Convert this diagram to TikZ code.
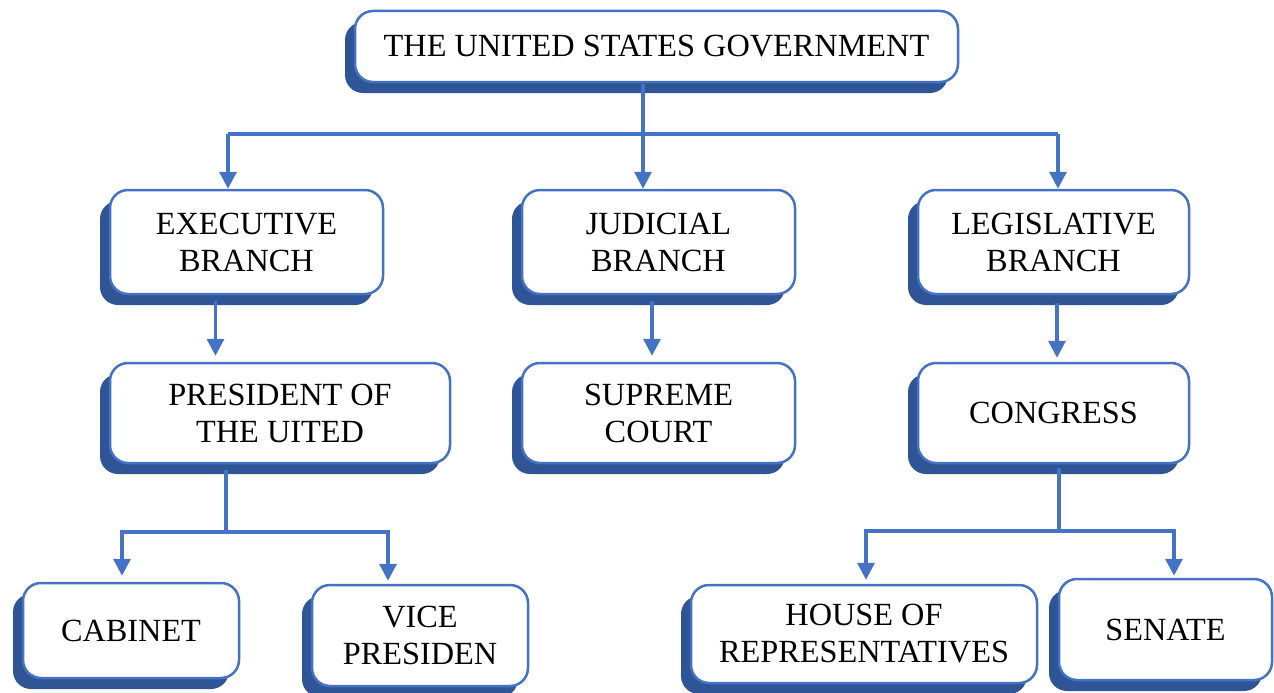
\documentclass[tikz,border=0pt]{standalone}
\usepackage{fontspec}
\setmainfont{Liberation Serif}
\usetikzlibrary{arrows.meta,shadows,calc}
\definecolor{boxblue}{HTML}{4472C4}
\definecolor{shadowblue}{HTML}{2F5597}
\tikzset{
  orgbox/.style={draw=boxblue, line width=2.5pt, fill=white, rounded corners=18pt,
    align=center, inner sep=2pt, font=\fontsize{32.3}{37}\selectfont,
    drop shadow={shadow xshift=-10pt, shadow yshift=-11pt, fill=shadowblue, opacity=1}},
  link/.style={draw=boxblue, line width=3.5pt},
  arr/.style={link, -{Triangle[width=17pt,length=17pt]}},
}
\begin{document}
\begin{tikzpicture}[x=1pt,y=-1pt]
\useasboundingbox (0,0) rectangle (1274,693);
% nodes
\node[orgbox, minimum width=603pt, minimum height=71pt] (top) at (656.5,46.5) {THE UNITED STATES GOVERNMENT};
\node[orgbox, minimum width=273pt, minimum height=104pt] (exec) at (246.5,242) {EXECUTIVE\\BRANCH};
\node[orgbox, minimum width=273pt, minimum height=104pt] (jud) at (658.5,242) {JUDICIAL\\BRANCH};
\node[orgbox, minimum width=271pt, minimum height=104pt] (leg) at (1053.5,242) {LEGISLATIVE\\BRANCH};
\node[orgbox, minimum width=340pt, minimum height=100pt] (pres) at (280,413) {PRESIDENT OF\\THE UITED};
\node[orgbox, minimum width=273pt, minimum height=100pt] (sup) at (658.5,413) {SUPREME\\COURT};
\node[orgbox, minimum width=271pt, minimum height=100pt] (cong) at (1053.5,413) {CONGRESS};
\node[orgbox, minimum width=216pt, minimum height=95pt] (cab) at (131,630.5) {CABINET};
\node[orgbox, minimum width=216pt, minimum height=101pt] (vice) at (420,635.5) {VICE\\PRESIDEN};
\node[orgbox, minimum width=346pt, minimum height=98pt] (house) at (864,634) {HOUSE OF\\REPRESENTATIVES};
\node[orgbox, minimum width=213pt, minimum height=101pt] (sen) at (1165.5,629.5) {SENATE};
% bus and connector coordinates
\coordinate (b1) at (643,134);
\coordinate (b1l) at (228,134);
\coordinate (b1r) at (1058,134);
\coordinate (xe) at (215.5,0);
\coordinate (xj) at (652,0);
\coordinate (xl) at (1057,0);
\coordinate (b2) at (226,532);
\coordinate (b2l) at (122,532);
\coordinate (b2r) at (388,532);
\coordinate (b3) at (1059,531);
\coordinate (b3l) at (866,531);
\coordinate (b3r) at (1174,531);
% top level
\draw[link] (b1l) -- (b1r);
\draw[arr] ($(top.south -| b1)+(0,1)$) -- (jud.north -| b1);
\draw[arr] (b1l) -- (exec.north -| b1l);
\draw[arr] (b1r) -- (leg.north -| b1r);
% branch to second level
\draw[arr] ($(exec.south -| xe)+(0,6)$) -- ($(pres.north -| xe)+(0,-6)$);
\draw[arr] ($(jud.south -| xj)+(0,6)$) -- ($(sup.north -| xj)+(0,-6)$);
\draw[arr] ($(leg.south -| xl)+(0,8)$) -- ($(cong.north -| xl)+(0,-4)$);
% president bus
\draw[link] ($(pres.south -| b2)+(0,6)$) -- (b2);
\draw[link] (b2l) -- (b2r);
\draw[arr] ($(b2l)+(0,-1.75)$) -- ($(cab.north -| b2l)+(0,-6)$);
\draw[arr] ($(b2r)+(0,-1.75)$) -- ($(vice.north -| b2r)+(0,-3)$);
% congress bus
\draw[link] ($(cong.south -| b3)+(0,4)$) -- ($(b3)+(0,2)$);
\draw[link] (b3l) -- (b3r);
\draw[arr] ($(b3l)+(0,-1.75)$) -- ($(house.north -| b3l)+(0,-4)$);
\draw[arr] ($(b3r)+(0,-1.75)$) -- ($(sen.north -| b3r)+(0,-2)$);
\end{tikzpicture}
\end{document}
